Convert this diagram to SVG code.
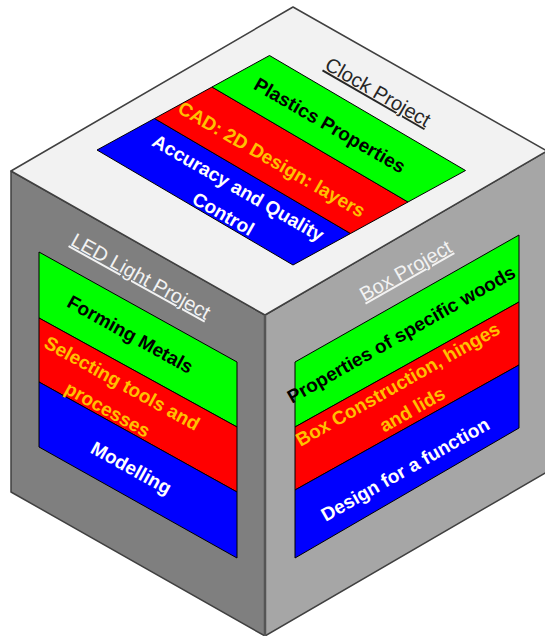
<svg xmlns="http://www.w3.org/2000/svg" width="545" height="636" viewBox="0 0 545 636">
<style>
.face{stroke:#404040;stroke-width:1.5;stroke-linejoin:round}
.top{fill:#f2f2f2}.left{fill:#7f7f7f}.right{fill:#a6a6a6}
.st{stroke:#000;stroke-width:1;stroke-linejoin:round}
.g{fill:#00ff00}.r{fill:#ff0000}.b{fill:#0000ff}
text{font-family:"Liberation Sans",Arial,sans-serif;text-anchor:middle}
.t{font-weight:bold;font-size:19px}
.k{fill:#000}.o{fill:#ffc000}.w{fill:#ffffff}
.lbl{font-size:20px;text-decoration:underline}
</style>
<rect width="545" height="636" fill="#ffffff"/>
<g id="cube">
  <polygon class="face left" points="11,171 265,315 265,636 11,492"/>
  <polygon class="face right" points="265,315 547,151 547,472 265,636"/>
  <polygon class="face top" points="293,7 547,151 265,315 11,171"/>
  <line x1="265" y1="315" x2="265" y2="636" stroke="#555555" stroke-width="2.5"/>
</g>
<g id="top-face-clock-project">
  <polygon class="st b" points="97,150 293,265 350.5,233.5 154.5,118.5"/>
  <polygon class="st r" points="154.5,118.5 350.5,233.5 408,202 212,87"/>
  <polygon class="st g" points="212,87 408,202 465.5,170.5 269.5,55.5"/>
  <text class="lbl" fill="#262626" transform="translate(378,92) rotate(30)" y="7">Clock Project</text>
  <text class="t k" transform="translate(330,125) rotate(30)" y="7">Plastics Properties</text>
  <text class="t o" transform="translate(272,159) rotate(30)" y="7">CAD: 2D Design: layers</text>
  <text class="t w" transform="translate(231,200.5) rotate(30)"><tspan x="0" y="-8">Accuracy and Quality</tspan><tspan x="0" y="22">Control</tspan></text>
</g>
<g id="left-face-led-light-project">
  <polygon class="st g" points="39,252 237,362 237,427 39,318"/>
  <polygon class="st r" points="39,318 237,427 237,492 39,382"/>
  <polygon class="st b" points="39,382 237,492 237,558 39,447"/>
  <text class="lbl" fill="#f2f2f2" transform="translate(141,276) rotate(29)" y="7">LED Light Project</text>
  <text class="t k" transform="translate(130.5,334) rotate(29)" y="7">Forming Metals</text>
  <text class="t o" transform="translate(115,396) rotate(29)"><tspan x="0" y="-8">Selecting tools and</tspan><tspan x="0" y="22">processes</tspan></text>
  <text class="t w" transform="translate(131.5,467.5) rotate(29)" y="7">Modelling</text>
</g>
<g id="right-face-box-project">
  <polygon class="st g" points="295,362 519,235 519,302 295,427"/>
  <polygon class="st r" points="295,427 519,302 519,365 295,490"/>
  <polygon class="st b" points="295,490 519,365 519,428 295,558"/>
  <text class="lbl" fill="#f2f2f2" transform="translate(405.5,270.5) rotate(-29.6)" y="7">Box Project</text>
  <text class="t k" transform="translate(401,334) rotate(-29.6)" y="7">Properties of specific woods</text>
  <text class="t o" transform="translate(404.5,396) rotate(-29.6)"><tspan x="0" y="-7">Box Construction, hinges</tspan><tspan x="0" y="22">and lids</tspan></text>
  <text class="t w" transform="translate(405,469) rotate(-29.6)" y="7">Design for a function</text>
</g>
<g id="connectors"/>
</svg>
